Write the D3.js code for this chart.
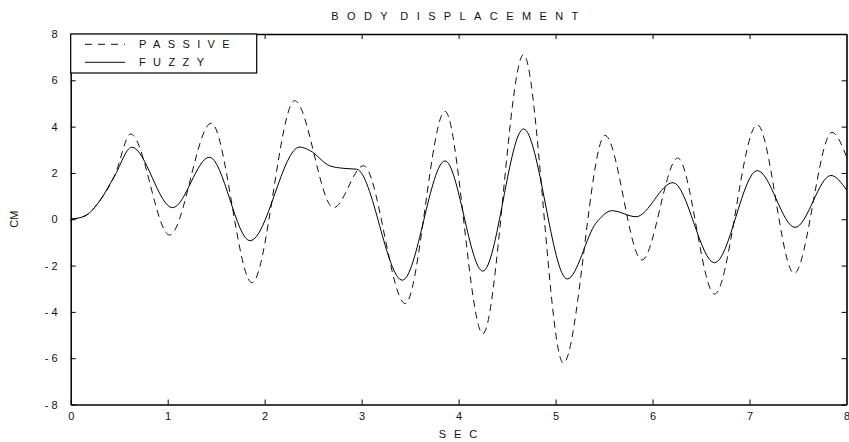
<!DOCTYPE html>
<html>
<head>
    <meta charset="UTF-8">
    <script src="https://d3js.org/d3.v7.min.js"></script>
    <style>
        body { margin: 0; background: #fff; }
        svg { display: block; font-family: "Liberation Sans", Arial, sans-serif; }
    </style>
</head>
<body>
    <div id="chart"></div>
    <script>
        // passive suspension (dashed)
        const passiveT = [0, 0.15, 0.3, 0.45, 0.62, 1.02, 1.45, 1.87, 2.31, 2.71, 3.02, 3.45, 3.86, 4.25, 4.67, 5.08, 5.51, 5.89, 6.26, 6.64, 7.08, 7.46, 7.85, 8.0];
        const passiveV = [0, 0.15, 0.8, 1.85, 3.68, -0.68, 4.15, -2.74, 5.12, 0.50, 2.31, -3.64, 4.66, -4.94, 7.11, -6.21, 3.62, -1.76, 2.64, -3.23, 4.08, -2.34, 3.75, 2.7];

        // fuzzy controller (solid)
        const fuzzyT = [0, 0.15, 0.3, 0.45, 0.63, 1.05, 1.43, 1.85, 2.36, 2.47, 2.67, 2.81, 2.95, 3.42, 3.86, 4.25, 4.67, 5.12, 5.42, 5.58, 5.83, 6.21, 6.64, 7.08, 7.47, 7.84, 8.0];
        const fuzzyV = [0, 0.15, 0.8, 1.85, 3.11, 0.50, 2.68, -0.93, 3.12, 2.96, 2.31, 2.2, 2.16, -2.63, 2.52, -2.24, 3.90, -2.58, -0.15, 0.37, 0.11, 1.58, -1.88, 2.10, -0.35, 1.89, 1.27];

        const xTicks = [0, 1, 2, 3, 4, 5, 6, 7, 8];
        const yTicks = [-8, -6, -4, -2, 0, 2, 4, 6, 8];

        const width = 849, height = 442;
        const margin = { top: 34, right: 2.5, bottom: 37.5, left: 70.7 };

        const svg = d3.select("#chart").append("svg")
            .attr("width", width)
            .attr("height", height);

        const x = d3.scaleLinear().domain([0, 8]).range([margin.left, width - margin.right]);
        const y = d3.scaleLinear().domain([-8, 8]).range([height - margin.bottom, margin.top]);

        // axes with inward ticks
        svg.append("g")
            .attr("transform", `translate(0,${y(-8)})`)
            .call(d3.axisBottom(x).tickValues(xTicks).tickSizeInner(-5).tickSizeOuter(0).tickPadding(8))
            .call(g => g.selectAll("text").attr("font-size", 11).attr("fill", "#111"));

        svg.append("g")
            .attr("transform", `translate(${x(0)},0)`)
            .call(d3.axisLeft(y).tickValues(yTicks).tickSizeInner(-5).tickSizeOuter(0).tickPadding(13)
                .tickFormat(d => d < 0 ? "- " + Math.abs(d) : d))
            .call(g => g.selectAll("text").attr("font-size", 11).attr("fill", "#111"));

        svg.append("g")
            .attr("transform", `translate(0,${y(8)})`)
            .call(d3.axisTop(x).tickValues(xTicks).tickSizeInner(-5).tickSizeOuter(0).tickFormat(""));

        svg.append("g")
            .attr("transform", `translate(${x(8)},0)`)
            .call(d3.axisRight(y).tickValues(yTicks).tickSizeInner(-5).tickSizeOuter(0).tickFormat(""))
            .call(g => g.select(".domain").attr("stroke-width", 2).attr("stroke", "#333"));

        svg.selectAll(".domain").attr("stroke-width", function () {
            return d3.select(this).attr("stroke-width") || 1.5;
        });

        const line = d3.line().curve(d3.curveMonotoneX)
            .x(d => x(d[0]))
            .y(d => y(d[1]));

        svg.append("path")
            .datum(passiveT.map((t, i) => [t, passiveV[i]]))
            .attr("fill", "none")
            .attr("stroke", "#111")
            .attr("stroke-width", 1)
            .attr("stroke-dasharray", "7,5")
            .attr("d", line);

        svg.append("path")
            .datum(fuzzyT.map((t, i) => [t, fuzzyV[i]]))
            .attr("fill", "none")
            .attr("stroke", "#000")
            .attr("stroke-width", 1)
            .attr("d", line);

        // titles
        svg.append("text")
            .attr("x", 459)
            .attr("y", 20)
            .attr("text-anchor", "middle")
            .attr("font-size", 11)
            .attr("letter-spacing", 8.4)
            .attr("word-spacing", -7)
            .attr("fill", "#111")
            .text("BODY DISPLACEMENT");

        svg.append("text")
            .attr("x", 462)
            .attr("y", 438)
            .attr("text-anchor", "middle")
            .attr("font-size", 11)
            .attr("letter-spacing", 8)
            .attr("fill", "#111")
            .text("SEC");

        svg.append("text")
            .attr("transform", `translate(18,${y(0)}) rotate(-90)`)
            .attr("text-anchor", "middle")
            .attr("font-size", 11)
            .attr("fill", "#111")
            .text("CM");

        // legend
        const legend = svg.append("g");
        legend.append("rect")
            .attr("x", x(0))
            .attr("y", y(8))
            .attr("width", 186)
            .attr("height", 39)
            .attr("fill", "#fff")
            .attr("stroke", "#000")
            .attr("stroke-width", 1.2);

        const legendItems = [
            { label: "PASSIVE", dash: "7,6", ly: 44.3 },
            { label: "FUZZY", dash: null, ly: 62.3 }
        ];
        legendItems.forEach(it => {
            legend.append("line")
                .attr("x1", 85).attr("x2", 125)
                .attr("y1", it.ly).attr("y2", it.ly)
                .attr("stroke", "#111")
                .attr("stroke-width", 1)
                .attr("stroke-dasharray", it.dash);
            legend.append("text")
                .attr("x", 139)
                .attr("y", it.ly + 3.5)
                .attr("font-size", 11)
                .attr("letter-spacing", 7.4)
                .attr("fill", "#111")
                .text(it.label);
        });
    </script>
</body>
</html>
